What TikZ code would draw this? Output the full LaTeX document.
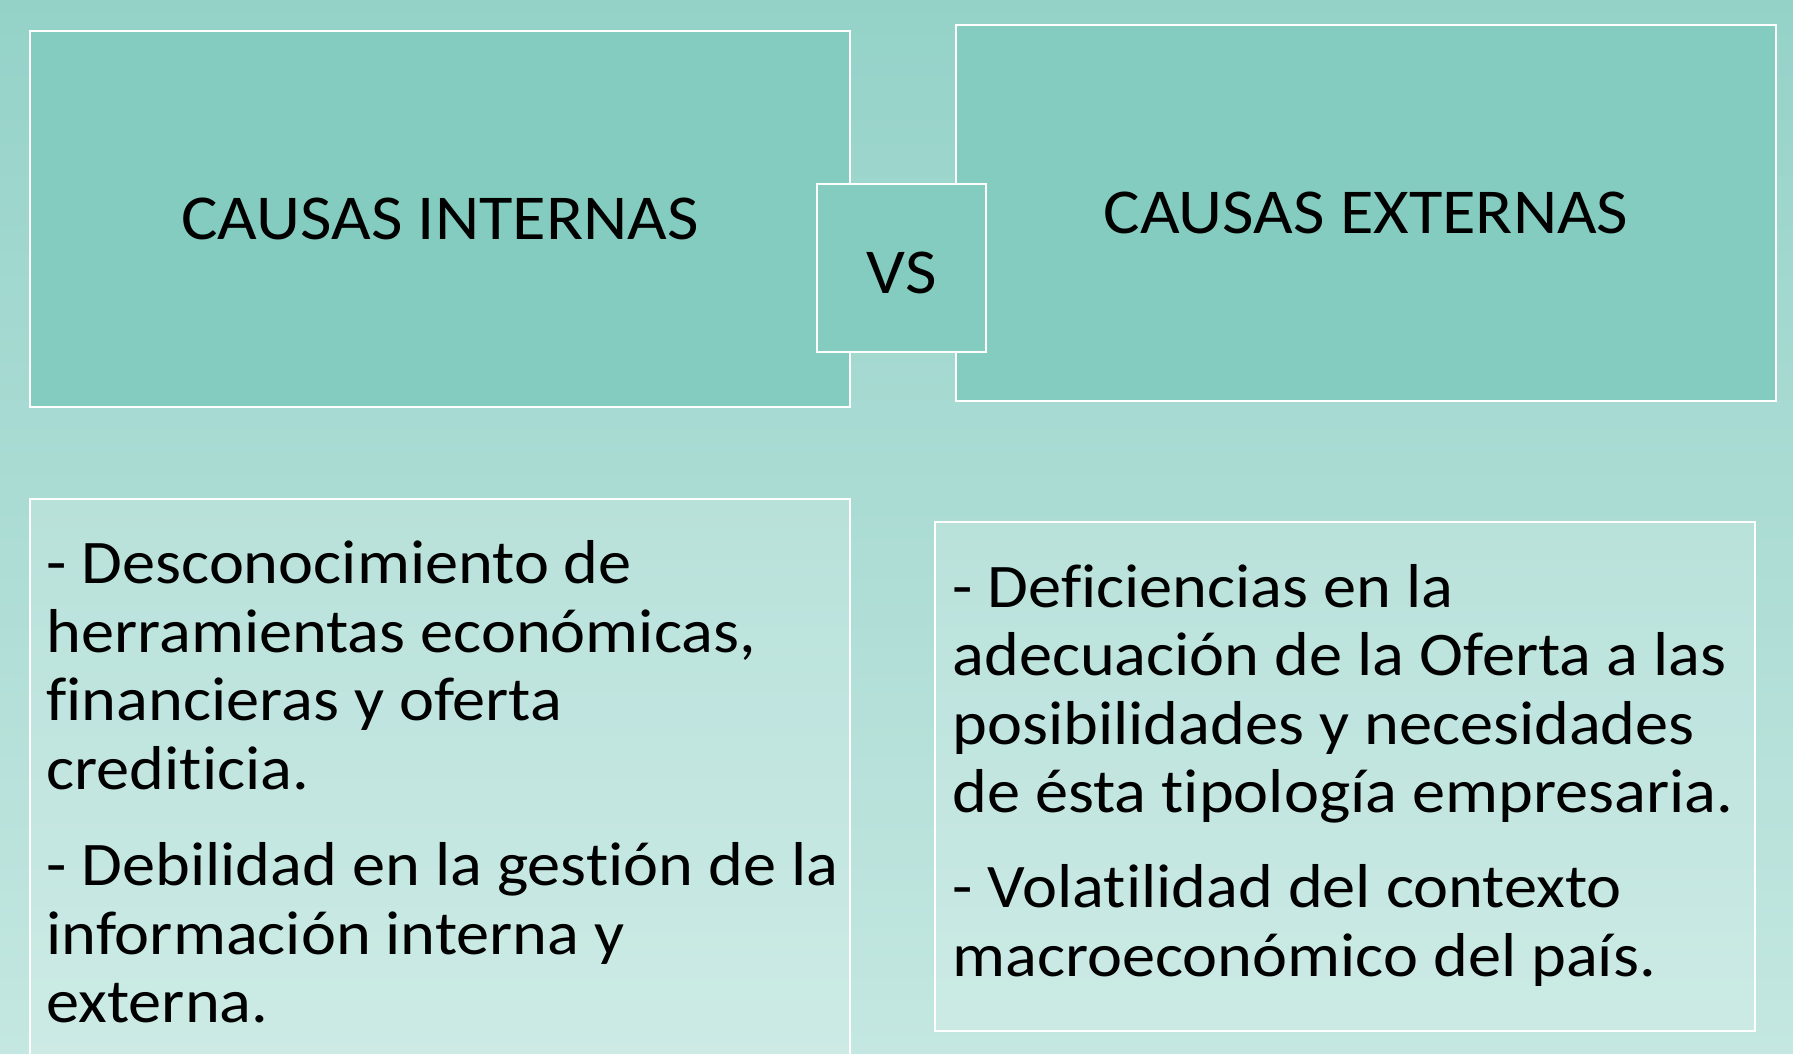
\documentclass[tikz,border=0pt]{standalone}
\usepackage{fontspec}
\setmainfont[Ligatures=NoCommon, FakeStretch=1.07]{Carlito}
\usepackage{tikz}
\definecolor{bgtop}{RGB}{148,210,200}
\definecolor{bgbot}{RGB}{196,231,225}
\definecolor{boxfill}{RGB}{132,204,192}
\tikzstyle{topbox}=[draw=white, line width=1.2pt, fill=boxfill, inner sep=0pt, font=\fontsize{32}{36}\selectfont]
\tikzstyle{listbox}=[draw=white, line width=1.2pt, fill=white, fill opacity=.16, inner sep=0pt]
\tikzstyle{li}=[draw=none, inner sep=0pt, anchor=base west, font=\fontsize{31}{34}\selectfont]

\begin{document}
\begin{tikzpicture}[x=0.5pt, y=-0.5pt]
\shade[top color=bgtop, bottom color=bgbot] (0,0) rectangle (1793,1054);
\useasboundingbox (0,0) rectangle (1793,1054);
\clip (0,0) rectangle (1793,1054);
\node[topbox, minimum width=410pt, minimum height=188pt] (ci) at (440,219) {CAUSAS INTERNAS};
\node[topbox, minimum width=410pt, minimum height=188pt] (ce) at (1366,213) {CAUSAS EXTERNAS};
\node[topbox, text height=26pt, minimum width=84.5pt, minimum height=84pt] (vs) at (901.5,268) {VS};
\node[listbox, minimum width=410pt, minimum height=301pt] (li) at (440,800) {};
\node[listbox, minimum width=410pt, minimum height=254.5pt] (le) at (1345,776.5) {};
\foreach \n/\y/\t in {1/583/- Desconocimiento de, 2/652/{herramientas económicas,},
    3/720/financieras y oferta, 4/789/crediticia., 5/885/- Debilidad en la gestión de la,
    6/954/información interna y, 7/1022/externa.}
  \node[li] (i\n) at (46,\y) {\t};
\foreach \n/\y/\t in {1/607/- Deficiencias en la, 2/675/adecuación de la Oferta a las,
    3/744/posibilidades y necesidades, 4/812/de ésta tipología empresaria.,
    5/907/- Volatilidad del contexto, 6/976/macroeconómico del país.}
  \node[li] (e\n) at (952,\y) {\t};
\end{tikzpicture}
\end{document}
